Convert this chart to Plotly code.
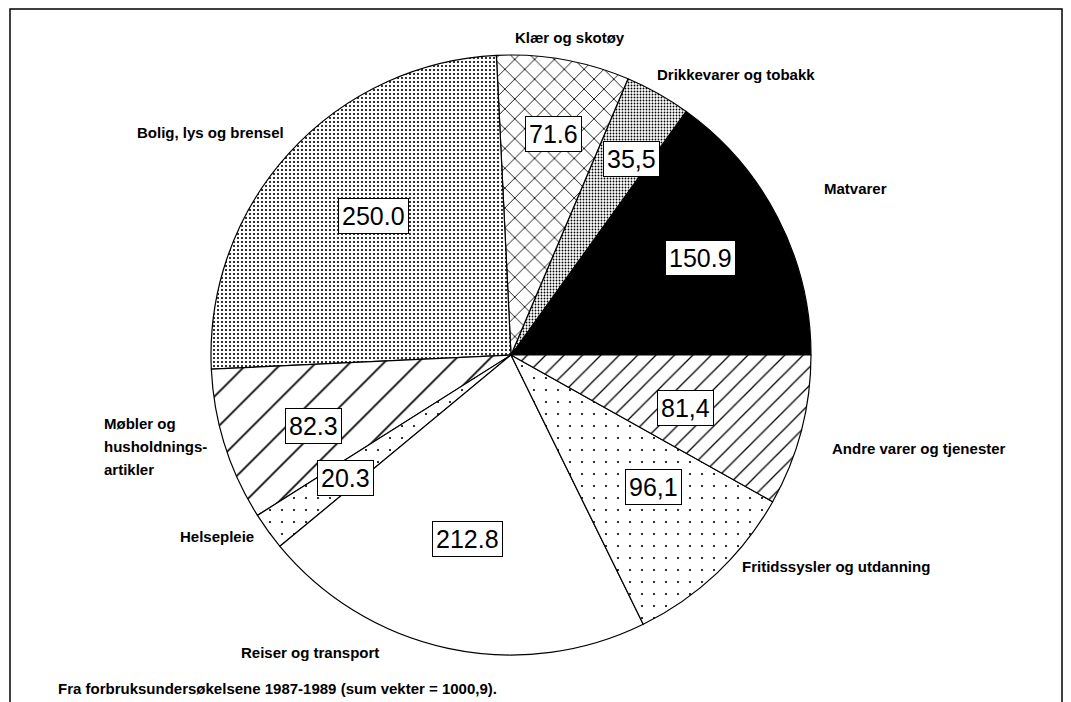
import math
import plotly.graph_objects as go

W, H = 1071, 702

# data
categories = [
    "Matvarer",
    "Drikkevarer og tobakk",
    "Klær og skotøy",
    "Bolig, lys og brensel",
    "Møbler og husholdningsartikler",
    "Helsepleie",
    "Reiser og transport",
    "Fritidssysler og utdanning",
    "Andre varer og tjenester",
]
weights = [150.9, 35.5, 71.6, 250.0, 82.3, 20.3, 212.8, 96.1, 81.4]
value_text = ["150.9", "35,5", "71.6", "250.0", "82.3", "20.3", "212.8", "96,1", "81,4"]
footnote = "Fra forbruksundersøkelsene 1987-1989 (sum vekter = 1000,9)."

# styles
pattern_shape = ["", ".", "x", ".", "/", ".", "", ".", "/"]
pattern_size = [8, 3, 14, 4, 24, 12, 8, 12, 13]
pattern_solid = [0.3, 0.3, 0.12, 0.22, 0.07, 0.025, 0.3, 0.025, 0.1]
slice_color = ["black"] + ["white"] * 8
box_radius = [0.71, 0.82, 0.81, 0.78, 0.79, 0.80, 0.69, 0.69, 0.70]

# label placement in pixels: (x, y, xanchor, lines)
label_pos = [
    (822, 188, "left", ["Matvarer"]),
    (655, 75, "left", ["Drikkevarer og tobakk"]),
    (570, 38, "center", ["Klær og skotøy"]),
    (210, 132, "center", ["Bolig, lys og brensel"]),
    (102, 423, "left", ["Møbler og", "husholdnings-", "artikler"]),
    (256, 536, "right", ["Helsepleie"]),
    (310, 652, "center", ["Reiser og transport"]),
    (740, 566, "left", ["Fritidssysler og utdanning"]),
    (830, 448, "left", ["Andre varer og tjenester"]),
]
LINE_STEP = 23

CX, CY, R = 511, 355, 300
LABEL_FONT = dict(family="Liberation Sans", size=15, color="black", weight="bold")


def px(x):
    return x / W


def py(y):
    return 1 - y / H


total = sum(weights)

fig = go.Figure(
    go.Pie(
        labels=categories,
        values=weights,
        sort=False,
        direction="counterclockwise",
        # plotly puts the end of the first ccw slice at the rotation angle
        rotation=90 - 360 * weights[0] / total,
        textinfo="none",
        hoverinfo="label+value",
        showlegend=False,
        domain=dict(x=[px(CX - R), px(CX + R)], y=[py(CY + R), py(CY - R)]),
        marker=dict(
            colors=slice_color,
            line=dict(color="black", width=1.2),
            pattern=dict(
                shape=pattern_shape,
                size=pattern_size,
                solidity=pattern_solid,
                fgcolor="black",
                bgcolor=slice_color,
                fillmode="replace",
            ),
        ),
    )
)

# value boxes at the mid angle of each slice
start = 0.0
annotations = []
for v, t, k in zip(weights, value_text, box_radius):
    mid = math.radians((start + v / 2) / total * 360)
    start += v
    x = CX + k * R * math.cos(mid)
    y = CY - k * R * math.sin(mid)
    annotations.append(dict(
        x=px(x), y=py(y), xref="paper", yref="paper",
        text=t, showarrow=False,
        font=dict(family="Liberation Sans", size=25, color="black"),
        bgcolor="white", bordercolor="black", borderwidth=1, borderpad=3,
    ))

for x, y, anchor, lines in label_pos:
    for i, line in enumerate(lines):
        annotations.append(dict(
            x=px(x), y=py(y + i * LINE_STEP), xref="paper", yref="paper",
            text=line, showarrow=False, xanchor=anchor, yanchor="middle",
            font=LABEL_FONT,
        ))

annotations.append(dict(
    x=px(56), y=py(688), xref="paper", yref="paper",
    text=footnote, showarrow=False, xanchor="left", yanchor="middle",
    font=LABEL_FONT,
))

fig.update_layout(
    width=W,
    height=H,
    margin=dict(l=0, r=0, t=0, b=0),
    paper_bgcolor="white",
    plot_bgcolor="white",
    annotations=annotations,
    shapes=[dict(
        type="rect", xref="paper", yref="paper",
        x0=px(10), x1=px(1062), y0=py(720), y1=py(9),
        line=dict(color="black", width=1.5),
    )],
)

fig.write_html(
    "out.html",
    config={"displayModeBar": False},
    post_script="document.body.style.margin='0';document.body.style.overflow='hidden';",
)
